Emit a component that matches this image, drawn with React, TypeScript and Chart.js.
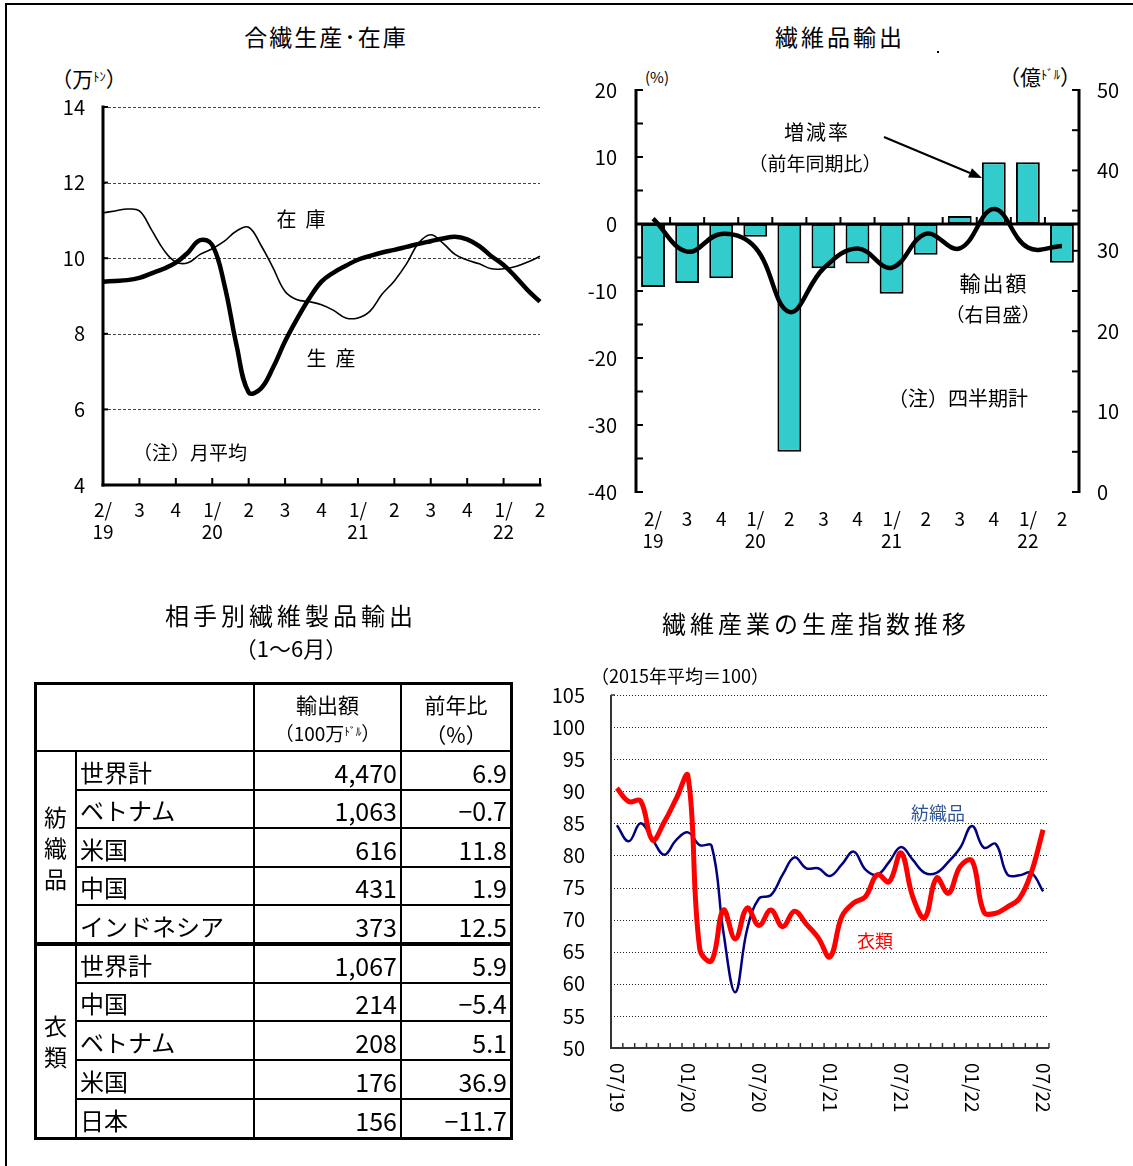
import React, { useEffect, useRef } from 'react';
import { Chart, registerables } from 'chart.js';

Chart.register(...registerables);

const FONT = '"Noto Sans CJK JP", "Noto Sans", sans-serif';
Chart.defaults.font.family = FONT;
Chart.defaults.color = '#000';

// ---------------- Chart 1: 合繊生産・在庫 (monthly, 万トン) ----------------
const c1Months = ['19/04','19/05','19/06','19/07','19/08','19/09','19/10','19/11','19/12','20/01','20/02','20/03','20/04','20/05','20/06','20/07','20/08','20/09','20/10','20/11','20/12','21/01','21/02','21/03','21/04','21/05','21/06','21/07','21/08','21/09','21/10','21/11','21/12','22/01','22/02','22/03','22/04'];
const c1QuarterLabels: any[] = [['2/', '19'], '3', '4', ['1/', '20'], '2', '3', '4', ['1/', '21'], '2', '3', '4', ['1/', '22'], '2'];
const c1Production = [9.38, 9.40, 9.42, 9.48, 9.60, 9.72, 9.88, 10.15, 10.48, 10.35, 9.30, 7.70, 6.45, 6.55, 7.10, 7.80, 8.40, 8.94, 9.38, 9.62, 9.80, 9.96, 10.06, 10.15, 10.22, 10.30, 10.38, 10.45, 10.52, 10.57, 10.50, 10.32, 10.05, 9.82, 9.50, 9.15, 8.85];
const c1Inventory = [11.20, 11.25, 11.30, 11.25, 10.75, 10.22, 9.90, 9.88, 10.10, 10.25, 10.45, 10.72, 10.82, 10.35, 9.75, 9.12, 8.90, 8.85, 8.77, 8.62, 8.42, 8.42, 8.60, 9.05, 9.40, 9.85, 10.40, 10.62, 10.40, 10.10, 9.95, 9.85, 9.72, 9.72, 9.78, 9.90, 10.05];

// ---------------- Chart 2: 繊維品輸出 (quarterly) ----------------
const c2Quarters: any[] = [['2/', '19'], '3', '4', ['1/', '20'], '2', '3', '4', ['1/', '21'], '2', '3', '4', ['1/', '22'], '2'];
const c2GrowthRate = [-9.4, -8.8, -8.1, -1.9, -34.0, -6.6, -5.9, -10.4, -4.6, 1.2, 9.2, 9.2, -5.8];
const c2ExportAmount = [34.0, 29.9, 32.1, 30.4, 22.4, 27.8, 30.3, 27.9, 32.1, 30.3, 35.2, 30.4, 30.6];

// ---------------- Table: 相手別繊維製品輸出 ----------------
const tableGroups = ['紡織品', '衣類'];
const tableGroupSizes = [5, 5];
const tableNames = ['世界計', 'ベトナム', '米国', '中国', 'インドネシア', '世界計', '中国', 'ベトナム', '米国', '日本'];
const tableExports = [4470, 1063, 616, 431, 373, 1067, 214, 208, 176, 156];
const tableChange = [6.9, -0.7, 11.8, 1.9, 12.5, 5.9, -5.4, 5.1, 36.9, -11.7];

// ---------------- Chart 4: 繊維産業の生産指数推移 ----------------
const c4Months = ['07/19','08/19','09/19','10/19','11/19','12/19','01/20','02/20','03/20','04/20','05/20','06/20','07/20','08/20','09/20','10/20','11/20','12/20','01/21','02/21','03/21','04/21','05/21','06/21','07/21','08/21','09/21','10/21','11/21','12/21','01/22','02/22','03/22','04/22','05/22','06/22','07/22'];
const c4Textile = [84.7, 82.2, 85.0, 82.5, 80.1, 82.4, 83.6, 81.6, 81.5, 68.0, 58.7, 68.5, 73.3, 73.8, 77.0, 79.7, 78.0, 78.0, 76.8, 78.6, 80.6, 77.8, 77.0, 79.0, 81.3, 79.3, 77.3, 77.3, 79.0, 81.2, 84.6, 81.2, 81.8, 77.0, 76.9, 77.3, 74.4];
const c4Apparel = [90.5, 88.4, 88.5, 82.4, 85.2, 88.8, 92.4, 65.4, 63.6, 71.5, 67.0, 71.8, 69.1, 71.5, 68.9, 71.3, 69.3, 67.2, 64.2, 70.5, 72.6, 73.6, 77.0, 75.9, 80.4, 73.5, 70.3, 76.5, 74.1, 78.3, 79.2, 71.2, 71.0, 72.0, 73.3, 77.3, 84.0];

// ---------------- helpers ----------------
const seg = (ctx: any, x1: number, y1: number, x2: number, y2: number) => {
  ctx.beginPath();
  ctx.moveTo(x1, y1);
  ctx.lineTo(x2, y2);
  ctx.stroke();
};

const deco1 = {
  id: 'deco1',
  beforeDatasetsDraw(chart: any) {
    const { ctx, chartArea: a, scales } = chart;
    ctx.save();
    ctx.strokeStyle = '#444';
    ctx.lineWidth = 1;
    ctx.setLineDash([3, 2]);
    scales.y.ticks.forEach((t: any) => {
      if (t.value <= scales.y.min) return;
      const py = Math.round(scales.y.getPixelForValue(t.value)) + 0.5;
      seg(ctx, a.left, py, a.right, py);
    });
    ctx.restore();
  },
  afterDatasetsDraw(chart: any) {
    const { ctx, chartArea: a, scales } = chart;
    ctx.save();
    ctx.strokeStyle = '#000';
    ctx.lineWidth = 3;
    ctx.lineCap = 'square';
    seg(ctx, a.left, a.top, a.left, a.bottom);
    seg(ctx, a.left, a.bottom, a.right, a.bottom);
    ctx.lineCap = 'butt';
    ctx.lineWidth = 2;
    for (let i = 3; i < c1Months.length; i += 3) {
      const px = scales.x.getPixelForValue(i);
      seg(ctx, px, a.bottom, px, a.bottom - 7);
    }
    scales.y.ticks.forEach((t: any) => {
      const py = scales.y.getPixelForValue(t.value);
      seg(ctx, a.left, py, a.left + 5, py);
    });
    ctx.restore();
  },
};

const deco2 = {
  id: 'deco2',
  beforeDatasetsDraw(chart: any) {
    const { ctx, chartArea: a, scales } = chart;
    const y0 = scales.y.getPixelForValue(0);
    ctx.save();
    ctx.strokeStyle = '#000';
    ctx.lineWidth = 3;
    seg(ctx, a.left, y0, a.right, y0);
    ctx.lineWidth = 2;
    const n = c2Quarters.length;
    for (let i = 1; i < n; i++) {
      const px = (scales.x.getPixelForValue(i - 1) + scales.x.getPixelForValue(i)) / 2;
      seg(ctx, px, y0, px, y0 - 7);
    }
    ctx.restore();
  },
  afterDatasetsDraw(chart: any) {
    const { ctx, chartArea: a, scales } = chart;
    ctx.save();
    ctx.strokeStyle = '#000';
    ctx.lineWidth = 3;
    seg(ctx, a.left, a.top - 1, a.left, a.bottom + 1);
    seg(ctx, a.right, a.top - 1, a.right, a.bottom + 1);
    ctx.lineWidth = 2;
    for (let v = scales.y.min; v <= scales.y.max; v += 5) {
      const py = scales.y.getPixelForValue(v);
      seg(ctx, a.left, py, a.left + 7, py);
    }
    for (let v = scales.y2.min; v <= scales.y2.max; v += 5) {
      const py = scales.y2.getPixelForValue(v);
      seg(ctx, a.right - 7, py, a.right, py);
    }
    ctx.restore();
  },
};

const deco4 = {
  id: 'deco4',
  beforeDatasetsDraw(chart: any) {
    const { ctx, chartArea: a, scales } = chart;
    ctx.save();
    ctx.strokeStyle = '#222';
    ctx.lineWidth = 1;
    ctx.setLineDash([1, 2]);
    scales.y.ticks.forEach((t: any) => {
      if (t.value <= scales.y.min) return;
      const py = Math.round(scales.y.getPixelForValue(t.value)) + 0.5;
      seg(ctx, a.left, py, a.right, py);
    });
    ctx.restore();
  },
  afterDatasetsDraw(chart: any) {
    const { ctx, chartArea: a, scales } = chart;
    ctx.save();
    ctx.strokeStyle = '#333';
    ctx.lineWidth = 2;
    seg(ctx, a.left, a.top, a.left, a.bottom + 1);
    seg(ctx, a.left, a.bottom, a.right, a.bottom);
    ctx.lineWidth = 1.5;
    const n = c4Months.length;
    const step = scales.x.getPixelForValue(1) - scales.x.getPixelForValue(0);
    for (let i = 0; i <= n; i++) {
      const px = scales.x.getPixelForValue(0) - step / 2 + i * step;
      seg(ctx, px, a.bottom, px, a.bottom - 5);
    }
    seg(ctx, a.left, a.top, a.left + 4, a.top);
    ctx.fillStyle = '#000';
    ctx.font = '19px ' + FONT;
    ctx.textAlign = 'left';
    ctx.textBaseline = 'middle';
    for (let i = 0; i < n; i += 6) {
      const px = scales.x.getPixelForValue(i);
      ctx.save();
      ctx.translate(px, a.bottom + 15);
      ctx.rotate(Math.PI / 2);
      ctx.fillText(c4Months[i], 0, 0);
      ctx.restore();
    }
    ctx.restore();
  },
};

const baseOpts = {
  responsive: false,
  animation: false,
  plugins: { legend: { display: false }, tooltip: { enabled: false }, title: { display: false } },
};

const noGrid = { display: false, drawTicks: false };

function makeChart1(): any {
  return {
    type: 'line',
    data: {
      labels: c1Months,
      datasets: [
        { label: '生産', data: c1Production, borderColor: '#000', borderWidth: 4.5, pointRadius: 0, tension: 0.4, fill: false },
        { label: '在庫', data: c1Inventory, borderColor: '#000', borderWidth: 1.6, pointRadius: 0, tension: 0.4, fill: false },
      ],
    },
    options: {
      ...baseOpts,
      layout: { padding: { top: 47, right: 20, left: 0, bottom: 0 } },
      scales: {
        x: {
          type: 'category',
          offset: false,
          grid: noGrid,
          border: { display: false },
          ticks: {
            autoSkip: false, maxRotation: 0, minRotation: 0, padding: 13,
            font: { size: 19, lineHeight: 1.2 }, color: '#000',
            callback: (_v: any, i: number) => (i % 3 === 0 ? c1QuarterLabels[i / 3] : ''),
          },
          afterFit: (s: any) => { s.height = 75; },
        },
        y: {
          min: 4, max: 14,
          grid: noGrid,
          border: { display: false },
          ticks: { stepSize: 2, padding: 18, font: { size: 20 }, color: '#000' },
          afterFit: (s: any) => { s.width = 83; },
        },
      },
    },
    plugins: [deco1],
  };
}

function makeChart2(): any {
  return {
    type: 'bar',
    data: {
      labels: c2Quarters,
      datasets: [
        { type: 'line', label: '輸出額', data: c2ExportAmount, yAxisID: 'y2', borderColor: '#000', borderWidth: 4.5, pointRadius: 0, tension: 0.4, fill: false, order: 1 },
        { type: 'bar', label: '増減率', data: c2GrowthRate, yAxisID: 'y', backgroundColor: '#33CCCC', borderColor: '#000', borderWidth: 2, borderSkipped: false, barPercentage: 0.7, categoryPercentage: 1, order: 2 },
      ],
    },
    options: {
      ...baseOpts,
      layout: { padding: { top: 29, right: 0, left: 0, bottom: 0 } },
      scales: {
        x: {
          offset: true,
          grid: noGrid,
          border: { display: false },
          ticks: { autoSkip: false, maxRotation: 0, minRotation: 0, padding: 16, font: { size: 19, lineHeight: 1.15 }, color: '#000' },
          afterFit: (s: any) => { s.height = 68; },
        },
        y: {
          position: 'left', min: -40, max: 20,
          grid: noGrid, border: { display: false },
          ticks: { stepSize: 10, padding: 19, font: { size: 20 }, color: '#000' },
          afterFit: (s: any) => { s.width = 76; },
        },
        y2: {
          position: 'right', min: 0, max: 50,
          grid: noGrid, border: { display: false },
          ticks: { stepSize: 10, padding: 18, font: { size: 20 }, color: '#000' },
          afterFit: (s: any) => { s.width = 54; },
        },
      },
    },
    plugins: [deco2],
  };
}

function makeChart4(): any {
  return {
    type: 'line',
    data: {
      labels: c4Months,
      datasets: [
        { label: '衣類', data: c4Apparel, borderColor: '#FF0000', borderWidth: 5, pointRadius: 0, tension: 0.4, fill: false, order: 1 },
        { label: '紡織品', data: c4Textile, borderColor: '#000080', borderWidth: 2.5, pointRadius: 0, tension: 0.4, fill: false, order: 2 },
      ],
    },
    options: {
      ...baseOpts,
      layout: { padding: { top: 0, right: 84, left: 0, bottom: 0 } },
      scales: {
        x: {
          type: 'category',
          offset: true,
          grid: noGrid,
          border: { display: false },
          ticks: { display: false, autoSkip: false },
          afterFit: (s: any) => { s.height = 118; },
        },
        y: {
          min: 50, max: 105,
          grid: noGrid, border: { display: false },
          ticks: { stepSize: 5, padding: 26, font: { size: 20 }, color: '#000' },
          afterFit: (s: any) => { s.width = 71; },
        },
      },
    },
    plugins: [deco4],
  };
}

function ChartCanvas({ left, top, width, height, make }: any) {
  const ref = useRef<HTMLCanvasElement>(null);
  useEffect(() => {
    const chart = new Chart(ref.current as HTMLCanvasElement, make());
    return () => chart.destroy();
  }, []);
  return (
    <canvas ref={ref} width={width} height={height} style={{ position: 'absolute', left, top, width, height }} />
  );
}

function T({ x, y, s, c = '#000', ls = 0, children, align = 'center' }: any) {
  const tx = align === 'center' ? '-50%' : align === 'right' ? '-100%' : '0';
  return (
    <div
      style={{
        position: 'absolute', left: x, top: y, transform: `translate(${tx}, -50%)`,
        fontSize: s, color: c, letterSpacing: ls, whiteSpace: 'nowrap', lineHeight: 1, fontFamily: FONT,
      }}
    >
      {children}
    </div>
  );
}

const Sup = ({ children }: any) => (
  <span style={{ fontSize: '0.6em', position: 'relative', top: '-0.45em' }}>{children}</span>
);

function Box({ l, t, w, h }: any) {
  return <div style={{ position: 'absolute', left: l, top: t, width: w, height: h, background: '#000' }} />;
}

// table layout
const tblCols = [35, 76, 254, 401, 511];
const tblRows = [683, 751, 790, 828, 867, 905, 944, 983, 1021, 1060, 1099, 1138];

function fmtChange(v: number) {
  const s = Math.abs(v).toFixed(1);
  return v < 0 ? '−' + s : s;
}

function Table() {
  const els: any[] = [];
  const L = tblCols[0], R = tblCols[4], Top = tblRows[0], Bot = tblRows[tblRows.length - 1];
  els.push(<Box key="o1" l={L - 1} t={Top - 1} w={R - L + 3} h={3} />);
  els.push(<Box key="o2" l={L - 1} t={Bot - 1} w={R - L + 3} h={3} />);
  els.push(<Box key="o3" l={L - 1} t={Top - 1} w={3} h={Bot - Top + 3} />);
  els.push(<Box key="o4" l={R - 1} t={Top - 1} w={3} h={Bot - Top + 3} />);
  els.push(<Box key="v1" l={tblCols[1] - 1} t={tblRows[1]} w={2} h={Bot - tblRows[1]} />);
  els.push(<Box key="v2" l={tblCols[2] - 1} t={Top} w={2} h={Bot - Top} />);
  els.push(<Box key="v3" l={tblCols[3] - 1} t={Top} w={2} h={Bot - Top} />);
  els.push(<Box key="hb" l={L} t={tblRows[1] - 1} w={R - L} h={2} />);
  let idx = 0;
  tableGroupSizes.forEach((n, g) => {
    for (let k = 1; k < n; k++) {
      const y = tblRows[1 + idx + k];
      els.push(<Box key={`r${g}${k}`} l={tblCols[1]} t={y - 1} w={R - tblCols[1]} h={2} />);
    }
    idx += n;
    if (g < tableGroupSizes.length - 1) {
      const y = tblRows[1 + idx];
      els.push(<Box key={`g${g}`} l={L} t={y - 2} w={R - L} h={4} />);
    }
  });
  els.push(<T key="h1" x={(tblCols[2] + tblCols[3]) / 2} y={704} s={21}>輸出額</T>);
  els.push(<T key="h2" x={(tblCols[2] + tblCols[3]) / 2} y={733} s={19}>（100万<Sup>ﾄﾞﾙ</Sup>）</T>);
  els.push(<T key="h3" x={(tblCols[3] + tblCols[4]) / 2} y={704} s={21}>前年比</T>);
  els.push(<T key="h4" x={(tblCols[3] + tblCols[4]) / 2} y={734} s={21}>（%）</T>);
  let start = 0;
  tableGroups.forEach((name, g) => {
    const t0 = tblRows[1 + start], t1 = tblRows[1 + start + tableGroupSizes[g]];
    els.push(
      <div key={`gn${g}`} style={{ position: 'absolute', left: tblCols[0], width: tblCols[1] - tblCols[0], top: t0, height: t1 - t0, display: 'flex', flexDirection: 'column', alignItems: 'center', justifyContent: 'center', fontSize: 23, lineHeight: '31px', fontFamily: FONT }}>
        {name.split('').map((ch, k) => <div key={k}>{ch}</div>)}
      </div>
    );
    start += tableGroupSizes[g];
  });
  tableNames.forEach((nm, i) => {
    const cy = (tblRows[1 + i] + tblRows[2 + i]) / 2 + 1;
    els.push(<T key={`n${i}`} x={80} y={cy} s={24} align="left">{nm}</T>);
    els.push(<T key={`e${i}`} x={397} y={cy} s={25} align="right">{tableExports[i].toLocaleString('en-US')}</T>);
    els.push(<T key={`c${i}`} x={507} y={cy} s={25} align="right">{fmtChange(tableChange[i])}</T>);
  });
  return <>{els}</>;
}

export default function App() {
  const ax1 = 884, ay1 = 137, ax2 = 982, ay2 = 178;
  const dx = ax2 - ax1, dy = ay2 - ay1, len = Math.hypot(dx, dy);
  const ux = dx / len, uy = dy / len;
  const bx = ax2 - 13 * ux, by = ay2 - 13 * uy;
  const head = `${ax2},${ay2} ${bx - 5 * uy},${by + 5 * ux} ${bx + 5 * uy},${by - 5 * ux}`;

  return (
    <div style={{ position: 'absolute', left: 0, top: 0, width: 1133, height: 1166, background: '#fff', overflow: 'hidden', fontFamily: FONT }}>
      <Box l={5} t={3} w={1128} h={2} />
      <Box l={5} t={3} w={2} h={1163} />

      {/* Chart 1 */}
      <T x={89} y={78} s={21}>（万<Sup>ﾄﾝ</Sup>）</T>
      <T x={326} y={36} s={23} ls={2}>合繊生産･在庫</T>
      <ChartCanvas left={20} top={60} width={540} height={500} make={makeChart1} />
      <T x={301} y={219} s={20}>在&nbsp;&nbsp;庫</T>
      <T x={331} y={358} s={20}>生&nbsp;&nbsp;産</T>
      <T x={190} y={451} s={19}>（注）月平均</T>

      {/* Chart 2 */}
      <T x={840} y={36} s={23} ls={3}>繊維品輸出</T>
      <div style={{ position: 'absolute', left: 937, top: 51, width: 2, height: 2, background: '#000' }} />
      <T x={657} y={76} s={15}>(%)</T>
      <T x={1040} y={76} s={21}>（億<Sup>ﾄﾞﾙ</Sup>）</T>
      <ChartCanvas left={560} top={59} width={573} height={501} make={makeChart2} />
      <T x={817} y={132} s={20} ls={2}>増減率</T>
      <T x={815} y={162} s={19}>（前年同期比）</T>
      <T x={994} y={282} s={21} ls={2}>輸出額</T>
      <T x={993} y={313} s={19}>（右目盛）</T>
      <T x={958} y={398} s={20}>（注）四半期計</T>
      <svg width={1133} height={1166} style={{ position: 'absolute', left: 0, top: 0, pointerEvents: 'none' }}>
        <line x1={ax1} y1={ay1} x2={bx} y2={by} stroke="#000" strokeWidth={2} />
        <polygon points={head} fill="#000" />
      </svg>

      {/* Table */}
      <T x={291} y={615} s={24} ls={4}>相手別繊維製品輸出</T>
      <T x={291} y={647} s={22}>（1～6月）</T>
      <Table />

      {/* Chart 4 */}
      <T x={816} y={623} s={24} ls={4}>繊維産業の生産指数推移</T>
      <T x={680} y={675} s={18}>（2015年平均＝100）</T>
      <ChartCanvas left={540} top={657} width={593} height={509} make={makeChart4} />
      <T x={938} y={812} s={18} c="#2F5597">紡織品</T>
      <T x={875} y={940} s={18} c="#FF0000">衣類</T>
    </div>
  );
}
